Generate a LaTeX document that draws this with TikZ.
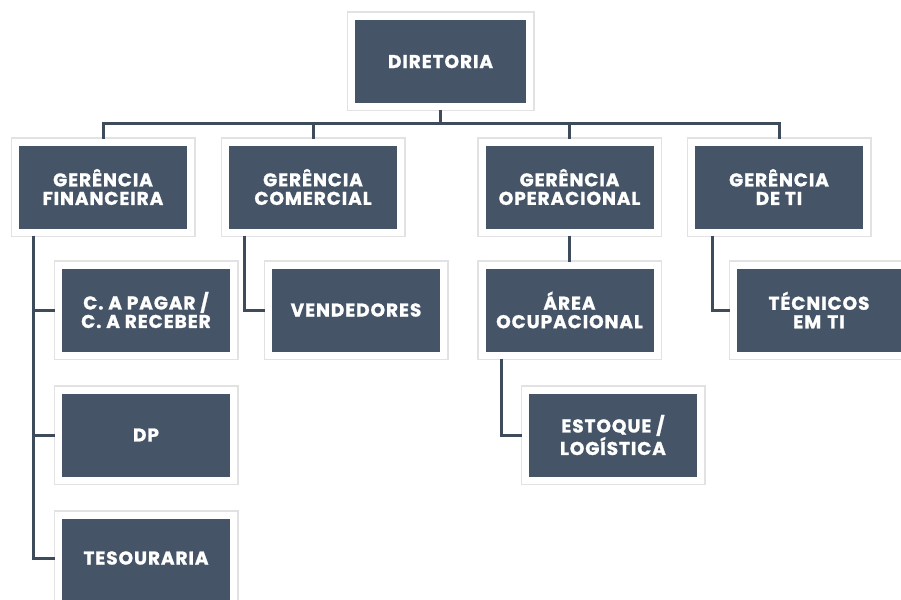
\documentclass[tikz,border=0pt]{standalone}
\usepackage{fontspec}
\setmainfont{Poppins}[BoldFeatures={FakeBold=1.2,LetterSpace=5}]
\begin{document}
\begin{tikzpicture}[x=1pt,y=1pt,
  box/.style={fill=boxfill, draw=white, line width=7pt, text=white,
    font=\fontsize{18.5}{18.5}\selectfont\bfseries, align=center,
    minimum width=175pt, minimum height=90pt, inner sep=0pt,
    preaction={draw=frameshade, line width=10pt}},
  conn/.style={draw=linecol, line width=3pt}]
\definecolor{boxfill}{HTML}{455567}
\definecolor{linecol}{HTML}{3E4B5B}
\definecolor{frameshade}{HTML}{E2E2E2}
\useasboundingbox (0,0) rectangle (901,-599);
\clip (0,0) rectangle (901,-599);
\fill[white] (0,0) rectangle (901,-599);
% nodes
\node[box, minimum width=178pt] (dir) at (440.5,-61.5) {DIRETORIA};
\node[box] (gf) at (103,-187) {GERÊNCIA\\FINANCEIRA};
\node[box] (gc) at (313,-187) {GERÊNCIA\\COMERCIAL};
\node[box] (go) at (569.5,-187) {GERÊNCIA\\OPERACIONAL};
\node[box] (gti) at (779,-187) {GERÊNCIA\\DE TI};
\node[box] (cap) at (146,-310) {C. A PAGAR /\\C. A RECEBER};
\node[box] (ven) at (356,-310) {VENDEDORES};
\node[box] (area) at (569.5,-310) {ÁREA\\OCUPACIONAL};
\node[box, text width=168pt] (tec) at (821,-310) {\hspace*{-4pt}TÉCNICOS\\\hspace*{-4pt}EM TI};
\node[box] (dp) at (146,-435) {DP};
\node[box] (est) at (613,-435) {ESTOQUE /\\LOGÍSTICA};
\node[box, minimum height=100pt] (tes) at (146,-565) {};
\node[text=white, font=\fontsize{18.5}{18.5}\selectfont\bfseries] (testext) at (146,-558) {TESOURARIA};
% coordinates for buses
\coordinate (bus) at (0,-123);
\coordinate (gfl) at (33,0);
\coordinate (gcl) at (244,0);
\coordinate (arl) at (501,0);
\coordinate (gtl) at (712,0);
% connectors
\draw[conn] (dir.south) -- (dir.south |- bus);
\draw[conn] (gf.north) -- (gf.north |- bus) -- (gti.north |- bus) -- (gti.north);
\draw[conn] (gc.north |- bus) -- (gc.north);
\draw[conn] (go.north |- bus) -- (go.north);
\draw[conn] (gf.south -| gfl) -- (gfl |- testext) -- (tes.west |- testext);
\draw[conn] (gfl |- cap.west) -- (cap.west);
\draw[conn] (gfl |- dp.west) -- (dp.west);
\draw[conn] (gc.south -| gcl) -- (gcl |- ven.west) -- (ven.west);
\draw[conn] (go.south) -- (area.north);
\draw[conn] (area.south -| arl) -- (arl |- est.west) -- (est.west);
\draw[conn] (gti.south -| gtl) -- (gtl |- tec.west) -- (tec.west);
\end{tikzpicture}
\end{document}
